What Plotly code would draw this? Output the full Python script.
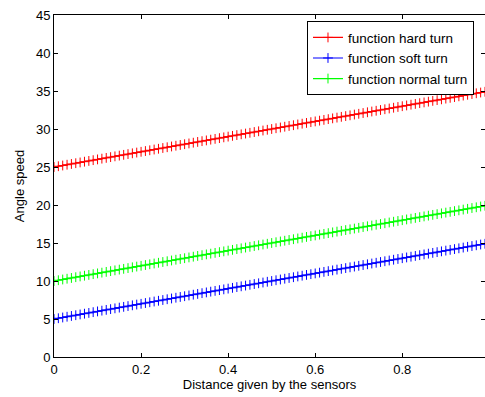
import plotly.graph_objects as go

distance = [0.00, 0.01, 0.02, 0.03, 0.04, 0.05, 0.06, 0.07, 0.08, 0.09,
            0.10, 0.11, 0.12, 0.13, 0.14, 0.15, 0.16, 0.17, 0.18, 0.19,
            0.20, 0.21, 0.22, 0.23, 0.24, 0.25, 0.26, 0.27, 0.28, 0.29,
            0.30, 0.31, 0.32, 0.33, 0.34, 0.35, 0.36, 0.37, 0.38, 0.39,
            0.40, 0.41, 0.42, 0.43, 0.44, 0.45, 0.46, 0.47, 0.48, 0.49,
            0.50, 0.51, 0.52, 0.53, 0.54, 0.55, 0.56, 0.57, 0.58, 0.59,
            0.60, 0.61, 0.62, 0.63, 0.64, 0.65, 0.66, 0.67, 0.68, 0.69,
            0.70, 0.71, 0.72, 0.73, 0.74, 0.75, 0.76, 0.77, 0.78, 0.79,
            0.80, 0.81, 0.82, 0.83, 0.84, 0.85, 0.86, 0.87, 0.88, 0.89,
            0.90, 0.91, 0.92, 0.93, 0.94, 0.95, 0.96, 0.97, 0.98, 0.99]

hard_turn = [25.0, 25.1, 25.2, 25.3, 25.4, 25.5, 25.6, 25.7, 25.8, 25.9,
             26.0, 26.1, 26.2, 26.3, 26.4, 26.5, 26.6, 26.7, 26.8, 26.9,
             27.0, 27.1, 27.2, 27.3, 27.4, 27.5, 27.6, 27.7, 27.8, 27.9,
             28.0, 28.1, 28.2, 28.3, 28.4, 28.5, 28.6, 28.7, 28.8, 28.9,
             29.0, 29.1, 29.2, 29.3, 29.4, 29.5, 29.6, 29.7, 29.8, 29.9,
             30.0, 30.1, 30.2, 30.3, 30.4, 30.5, 30.6, 30.7, 30.8, 30.9,
             31.0, 31.1, 31.2, 31.3, 31.4, 31.5, 31.6, 31.7, 31.8, 31.9,
             32.0, 32.1, 32.2, 32.3, 32.4, 32.5, 32.6, 32.7, 32.8, 32.9,
             33.0, 33.1, 33.2, 33.3, 33.4, 33.5, 33.6, 33.7, 33.8, 33.9,
             34.0, 34.1, 34.2, 34.3, 34.4, 34.5, 34.6, 34.7, 34.8, 34.9]

soft_turn = [5.0, 5.1, 5.2, 5.3, 5.4, 5.5, 5.6, 5.7, 5.8, 5.9,
             6.0, 6.1, 6.2, 6.3, 6.4, 6.5, 6.6, 6.7, 6.8, 6.9,
             7.0, 7.1, 7.2, 7.3, 7.4, 7.5, 7.6, 7.7, 7.8, 7.9,
             8.0, 8.1, 8.2, 8.3, 8.4, 8.5, 8.6, 8.7, 8.8, 8.9,
             9.0, 9.1, 9.2, 9.3, 9.4, 9.5, 9.6, 9.7, 9.8, 9.9,
             10.0, 10.1, 10.2, 10.3, 10.4, 10.5, 10.6, 10.7, 10.8, 10.9,
             11.0, 11.1, 11.2, 11.3, 11.4, 11.5, 11.6, 11.7, 11.8, 11.9,
             12.0, 12.1, 12.2, 12.3, 12.4, 12.5, 12.6, 12.7, 12.8, 12.9,
             13.0, 13.1, 13.2, 13.3, 13.4, 13.5, 13.6, 13.7, 13.8, 13.9,
             14.0, 14.1, 14.2, 14.3, 14.4, 14.5, 14.6, 14.7, 14.8, 14.9]

normal_turn = [10.0, 10.1, 10.2, 10.3, 10.4, 10.5, 10.6, 10.7, 10.8, 10.9,
               11.0, 11.1, 11.2, 11.3, 11.4, 11.5, 11.6, 11.7, 11.8, 11.9,
               12.0, 12.1, 12.2, 12.3, 12.4, 12.5, 12.6, 12.7, 12.8, 12.9,
               13.0, 13.1, 13.2, 13.3, 13.4, 13.5, 13.6, 13.7, 13.8, 13.9,
               14.0, 14.1, 14.2, 14.3, 14.4, 14.5, 14.6, 14.7, 14.8, 14.9,
               15.0, 15.1, 15.2, 15.3, 15.4, 15.5, 15.6, 15.7, 15.8, 15.9,
               16.0, 16.1, 16.2, 16.3, 16.4, 16.5, 16.6, 16.7, 16.8, 16.9,
               17.0, 17.1, 17.2, 17.3, 17.4, 17.5, 17.6, 17.7, 17.8, 17.9,
               18.0, 18.1, 18.2, 18.3, 18.4, 18.5, 18.6, 18.7, 18.8, 18.9,
               19.0, 19.1, 19.2, 19.3, 19.4, 19.5, 19.6, 19.7, 19.8, 19.9]

series_names = ["function hard turn", "function soft turn", "function normal turn"]
series_colors = ["#ff0000", "#0000ff", "#00ff00"]
series_values = [hard_turn, soft_turn, normal_turn]

x_ticks = [0, 0.2, 0.4, 0.6, 0.8]
x_tick_labels = ["0", "0.2", "0.4", "0.6", "0.8"]
y_ticks = [0, 5, 10, 15, 20, 25, 30, 35, 40, 45]

FONT = "Liberation Sans, Arial, Helvetica, sans-serif"
FS = 13

fig = go.Figure()
for name, color, vals in zip(series_names, series_colors, series_values):
    fig.add_trace(go.Scatter(
        x=distance, y=vals, name=name, mode="lines+markers",
        line=dict(color=color, width=1.2),
        marker=dict(symbol="cross-thin", size=7, line=dict(color=color, width=1)),
    ))

fig.update_layout(
    width=485, height=397,
    margin=dict(l=54, r=0, t=15, b=40, autoexpand=False),
    paper_bgcolor="white", plot_bgcolor="white",
    font=dict(family=FONT, size=FS, color="black"),
    showlegend=True,
    legend=dict(
        x=0.587, y=0.982, xanchor="left", yanchor="top",
        bgcolor="white", bordercolor="black", borderwidth=1,
        font=dict(family=FONT, size=13.5, color="black"),
        tracegroupgap=0, entrywidth=136, entrywidthmode="pixels",
    ),
    xaxis=dict(
        range=[0, 0.99], tickvals=x_ticks, ticktext=x_tick_labels,
        ticks="inside", ticklen=4, tickcolor="black",
        showline=True, linecolor="black", linewidth=1, mirror="ticks",
        showgrid=False, zeroline=False, automargin=False,
        tickfont=dict(family=FONT, size=FS),
        title=dict(text="Distance given by the sensors", standoff=2,
                   font=dict(family=FONT, size=FS)),
    ),
    yaxis=dict(
        range=[0, 45], tickvals=y_ticks,
        ticks="inside", ticklen=4, tickcolor="black",
        showline=True, linecolor="black", linewidth=1, mirror="ticks",
        showgrid=False, zeroline=False, automargin=False,
        tickfont=dict(family=FONT, size=FS),
        title=dict(text="Angle speed", standoff=8,
                   font=dict(family=FONT, size=FS)),
    ),
)

fig.write_html("out.html", config={"displayModeBar": False},
               post_script="document.body.style.margin='0px';document.body.style.overflow='hidden';")
